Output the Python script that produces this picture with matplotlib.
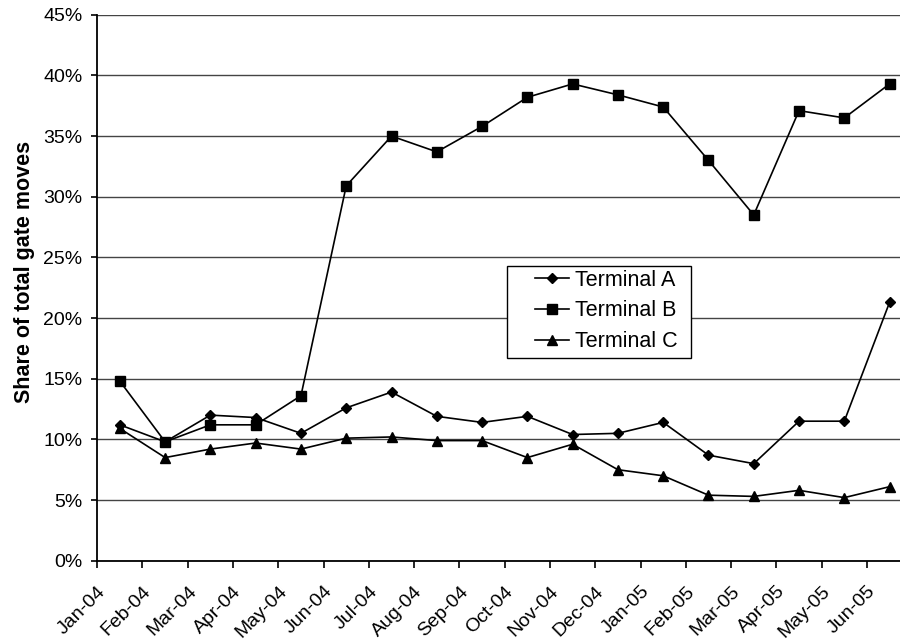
import matplotlib
matplotlib.use('Agg')
import matplotlib.pyplot as plt
from matplotlib.ticker import PercentFormatter
from matplotlib.patches import Rectangle
import numpy as np

plt.rcParams['font.family'] = ['Liberation Sans', 'DejaVu Sans']

months = ['Jan-04', 'Feb-04', 'Mar-04', 'Apr-04', 'May-04', 'Jun-04', 'Jul-04',
          'Aug-04', 'Sep-04', 'Oct-04', 'Nov-04', 'Dec-04', 'Jan-05', 'Feb-05',
          'Mar-05', 'Apr-05', 'May-05', 'Jun-05']

terminal_a = [11.2, 9.8, 12.0, 11.8, 10.5, 12.6, 13.9, 11.9, 11.4, 11.9, 10.4, 10.5,
              11.4, 8.7, 8.0, 11.5, 11.5, 21.3]
terminal_b = [14.8, 9.8, 11.2, 11.2, 13.6, 30.9, 35.0, 33.7, 35.8, 38.2, 39.3, 38.4,
              37.4, 33.0, 28.5, 37.1, 36.5, 39.3]
terminal_c = [10.9, 8.5, 9.2, 9.7, 9.2, 10.1, 10.2, 9.9, 9.9, 8.5, 9.6, 7.5,
              7.0, 5.4, 5.3, 5.8, 5.2, 6.1]

# points sit between the month ticks
x = np.arange(len(months)) + 0.5

fig = plt.figure(figsize=(9, 6.43), dpi=100)
ax = fig.add_axes([0.108, 0.128, 0.892, 0.849])

ax.plot(x, terminal_a, color='black', lw=1.2, marker='D', ms=5, label='Terminal A')
ax.plot(x, terminal_b, color='black', lw=1.2, marker='s', ms=6.5, label='Terminal B')
ax.plot(x, terminal_c, color='black', lw=1.2, marker='^', ms=7, label='Terminal C')

ax.set_ylim(0, 45)
ax.set_yticks(np.arange(0, 46, 5))
ax.yaxis.set_major_formatter(PercentFormatter(decimals=0))
ax.set_xlim(0, 17.73)
ax.set_xticks(np.arange(len(months)))
ax.set_xticklabels(months, rotation=45, ha='right', rotation_mode='anchor')

ax.grid(axis='y', color='#444444', lw=1)
ax.set_axisbelow(True)
for s in ['top', 'right']:
    ax.spines[s].set_visible(False)
ax.spines['left'].set_linewidth(1.3)
ax.spines['bottom'].set_linewidth(1.3)
ax.tick_params(axis='x', labelsize=14, length=5, width=1.2, pad=11)
ax.tick_params(axis='y', labelsize=14, length=4.5, width=1.2, pad=6)

ax.set_ylabel('Share of total gate moves', fontsize=15.5, fontweight='bold')
ax.yaxis.set_label_coords(-0.077, 0.529)

# legend box drawn separately so the handles can sit further in
ax.add_patch(Rectangle((0.5633, 0.4432), 0.2044, 0.1431, transform=fig.transFigure,
                       facecolor='white', edgecolor='black', lw=1, zorder=4,
                       clip_on=False))
leg = ax.legend(loc='upper left', bbox_to_anchor=(0.5456, 0.533), fontsize=15.5,
                frameon=False, handlelength=1.55, handletextpad=0.3,
                borderpad=0, borderaxespad=0, labelspacing=0.45)
leg.set_zorder(5)

fig.savefig('out.png', dpi=100)
